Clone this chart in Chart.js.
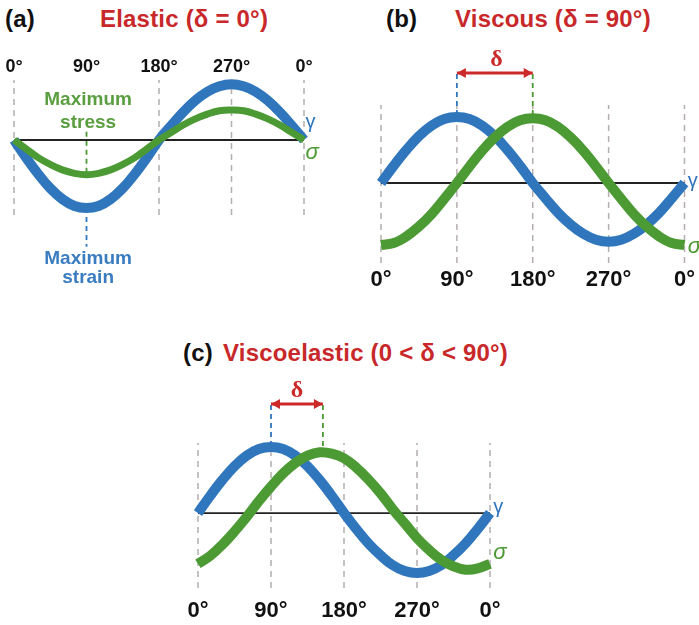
<!DOCTYPE html>
<html>
<head>
<meta charset="utf-8">
<script src="https://cdn.jsdelivr.net/npm/chart.js@4.4.0/dist/chart.umd.min.js"></script>
<style>
  body { margin: 0; background: #fff; }
  #page { position: relative; width: 699px; height: 625px; overflow: hidden; font-family: "Liberation Sans", Arial, sans-serif; }
  .ttl { position: absolute; font-weight: bold; font-size: 24px; line-height: 28px; letter-spacing: 0.2px; white-space: nowrap; color: #111; }
  .red { color: #c8282a; }
  canvas { position: absolute; }
</style>
</head>
<body>
<div id="page">
  <div class="ttl" style="left:5px; top:5px">(a)</div>
  <div class="ttl red" style="left:100px; top:5px">Elastic (δ = 0°)</div>
  <div class="ttl" style="left:386px; top:5px">(b)</div>
  <div class="ttl red" style="left:455px; top:5px">Viscous (δ = 90°)</div>
  <div class="ttl" style="left:183px; top:339px">(c)</div>
  <div class="ttl red" style="left:223px; top:339px">Viscoelastic (0 &lt; δ &lt; 90°)</div>
  <canvas id="chartA" width="340" height="300" style="left:0; top:0"></canvas>
  <canvas id="chartB" width="359" height="300" style="left:340px; top:0"></canvas>
  <canvas id="chartC" width="400" height="245" style="left:150px; top:380px"></canvas>
</div>
<script>
// phase angle (deg) of each sample
const angles = [0, 15, 30, 45, 60, 75, 90, 105, 120, 135, 150, 165, 180,
                195, 210, 225, 240, 255, 270, 285, 300, 315, 330, 345, 360];
const tickAngles = [0, 90, 180, 270, 360];
const tickLabels = ['0°', '90°', '180°', '270°', '0°'];

// (a) elastic: strain (gamma) and stress (sigma) in phase
const strainA = [0, -0.26, -0.5, -0.71, -0.87, -0.97, -1, -0.97, -0.87, -0.71, -0.5, -0.26, 0,
                 0.21, 0.41, 0.58, 0.71, 0.79, 0.82, 0.79, 0.71, 0.58, 0.41, 0.21, 0];
const stressA = [0, -0.13, -0.26, -0.36, -0.44, -0.49, -0.51, -0.49, -0.44, -0.36, -0.26, -0.13, 0,
                 0.11, 0.22, 0.31, 0.38, 0.43, 0.44, 0.43, 0.38, 0.31, 0.22, 0.11, 0];

// (b) viscous: stress lags strain by 90
const strainB = [0, 0.26, 0.5, 0.71, 0.87, 0.97, 1, 0.97, 0.87, 0.71, 0.5, 0.26, 0,
                 -0.23, -0.45, -0.63, -0.77, -0.86, -0.89, -0.86, -0.77, -0.63, -0.45, -0.23, 0];
const stressB = [-0.94, -0.91, -0.81, -0.66, -0.47, -0.24, 0, 0.25, 0.49, 0.69, 0.85, 0.95, 0.98,
                 0.95, 0.85, 0.69, 0.49, 0.25, 0, -0.24, -0.47, -0.66, -0.81, -0.91, -0.94];

// (c) viscoelastic: stress lags strain by ~64
const strainC = [0, 0.26, 0.5, 0.71, 0.87, 0.97, 1, 0.97, 0.87, 0.71, 0.5, 0.26, 0,
                 -0.24, -0.46, -0.64, -0.79, -0.88, -0.91, -0.88, -0.79, -0.64, -0.46, -0.24, 0];
const stressC = [-0.77, -0.65, -0.48, -0.28, -0.06, 0.18, 0.4, 0.6, 0.76, 0.87, 0.92, 0.9, 0.83,
                 0.69, 0.51, 0.3, 0.06, -0.16, -0.38, -0.56, -0.71, -0.81, -0.86, -0.84, -0.77];

// delta arrows: [strain peak, stress peak]
const deltaB = [90, 180];
const deltaC = [90, 154];

const BLUE = '#2f76bd';
const GREEN = '#4c9a34';
const RED = '#cc2a2a';
const GREY = '#b5aeae';
const FONT = '"Liberation Sans", Arial, sans-serif';

// text labels and delta arrowheads, placed through the chart scales
const notes = {
  id: 'notes',
  afterDatasetsDraw(chart, args, opts) {
    const {ctx, scales: {x, y}} = chart;
    ctx.save();
    if (opts.arrow) {
      const yy = y.getPixelForValue(opts.arrow.y);
      const x0 = x.getPixelForValue(opts.arrow.from);
      const x1 = x.getPixelForValue(opts.arrow.to);
      ctx.fillStyle = RED;
      ctx.beginPath();
      ctx.moveTo(x0, yy); ctx.lineTo(x0 + 9, yy - 5); ctx.lineTo(x0 + 9, yy + 5); ctx.closePath();
      ctx.moveTo(x1, yy); ctx.lineTo(x1 - 9, yy - 5); ctx.lineTo(x1 - 9, yy + 5); ctx.closePath();
      ctx.fill();
    }
    (opts.items || []).forEach(n => {
      ctx.font = n.font;
      ctx.fillStyle = n.color;
      ctx.textAlign = n.align || 'center';
      ctx.textBaseline = 'middle';
      ctx.fillText(n.text, x.getPixelForValue(n.x), y.getPixelForValue(n.y));
    });
    ctx.restore();
  }
};

function line(points, color, width, dash, order) {
  return {
    data: points, borderColor: color, borderWidth: width, borderDash: dash || [],
    pointRadius: 0, tension: 0, clip: false, order: order, borderCapStyle: 'butt'
  };
}

function makePanel(id, p) {
  const datasets = [
    {
      data: angles.map((a, i) => ({x: a, y: p.stress[i]})),
      borderColor: GREEN, borderWidth: p.stressWidth, pointRadius: 0,
      tension: 0.4, clip: false, order: 1
    },
    {
      data: angles.map((a, i) => ({x: a, y: p.strain[i]})),
      borderColor: BLUE, borderWidth: 10, pointRadius: 0,
      tension: 0.4, clip: false, order: 2
    },
    line([{x: 0, y: 0}, {x: 360, y: 0}], '#222', 1.8, null, 3)
  ];
  p.guides.forEach(g => {
    datasets.push(line([{x: g.at, y: g.from}, {x: g.at, y: g.to}], g.color, 1.8, [5, 4], 4));
  });
  p.grid.forEach(a => {
    datasets.push(line([{x: a, y: p.yMin}, {x: a, y: p.yMax}], GREY, 1.5, [6, 5], 5));
  });
  let arrow = null;
  if (p.delta) {
    datasets.push(line([{x: p.delta[0], y: p.arrowY}, {x: p.delta[1], y: p.arrowY}], RED, 3, null, 0));
    arrow = {from: p.delta[0], to: p.delta[1], y: p.arrowY};
  }

  return new Chart(document.getElementById(id), {
    type: 'line',
    data: {datasets},
    plugins: [notes],
    options: {
      responsive: false,
      animation: false,
      events: [],
      layout: {padding: p.padding},
      scales: {
        x: {
          type: 'linear', min: 0, max: 360, position: p.axisPos,
          grid: {display: false, drawTicks: false},
          border: {display: false},
          afterBuildTicks: s => { s.ticks = tickAngles.map(v => ({value: v})); },
          afterFit: s => { s.height = 30; },
          ticks: {
            autoSkip: false, maxRotation: 0, padding: p.tickPad, color: '#111',
            font: {family: FONT, weight: 'bold', size: p.tickSize},
            callback: (v, i) => tickLabels[i]
          }
        },
        y: {type: 'linear', display: false, min: p.yMin, max: p.yMax}
      },
      plugins: {
        legend: {display: false},
        tooltip: {enabled: false},
        notes: {items: p.notes, arrow: arrow}
      }
    }
  });
}

makePanel('chartA', {
  strain: strainA, stress: stressA, stressWidth: 7,
  padding: {left: 14, right: 36, top: 50, bottom: 85},
  axisPos: 'top', tickPad: 2, tickSize: 18,
  yMin: -1.103, yMax: 0.882,
  grid: [0, 180, 270, 360],
  guides: [
    {at: 90, from: 0.12, to: -0.51, color: GREEN},
    {at: 90, from: -1, to: -1.57, color: BLUE}
  ],
  notes: [
    {text: 'Maximum', x: 92, y: 0.59, color: '#5a9e40', font: 'bold 19px ' + FONT},
    {text: 'stress', x: 92, y: 0.25, color: '#5a9e40', font: 'bold 19px ' + FONT},
    {text: 'Maximum', x: 92, y: -1.74, color: '#3a7cc0', font: 'bold 19px ' + FONT},
    {text: 'strain', x: 92, y: -2.03, color: '#3a7cc0', font: 'bold 19px ' + FONT},
    {text: 'γ', x: 362, y: 0.25, color: BLUE, align: 'left', font: '20px ' + FONT},
    {text: 'σ', x: 362, y: -0.19, color: GREEN, align: 'left', font: 'italic 22px ' + FONT}
  ]
});

makePanel('chartB', {
  strain: strainB, stress: stressB, stressWidth: 10,
  padding: {left: 41, right: 14, top: 105, bottom: 7},
  axisPos: 'bottom', tickPad: 4, tickSize: 22,
  yMin: -1.212, yMax: 1.182,
  grid: tickAngles,
  guides: [
    {at: deltaB[0], from: 1.652, to: 1.0, color: BLUE},
    {at: deltaB[1], from: 1.652, to: 0.98, color: GREEN}
  ],
  delta: deltaB, arrowY: 1.667,
  notes: [
    {text: 'δ', x: 137, y: 1.87, color: RED, font: 'bold 24px "Liberation Serif", serif'},
    {text: 'γ', x: 364, y: 0.03, color: BLUE, align: 'left', font: '20px ' + FONT},
    {text: 'σ', x: 364, y: -0.97, color: GREEN, align: 'left', font: 'italic 22px ' + FONT}
  ]
});

makePanel('chartC', {
  strain: strainC, stress: stressC, stressWidth: 10,
  padding: {left: 48, right: 60, top: 63, bottom: 7},
  axisPos: 'bottom', tickPad: 10, tickSize: 22,
  yMin: -1.136, yMax: 1.061,
  grid: tickAngles,
  guides: [
    {at: deltaC[0], from: 1.636, to: 1.0, color: BLUE},
    {at: deltaC[1], from: 1.636, to: 0.92, color: GREEN}
  ],
  delta: deltaC, arrowY: 1.652,
  notes: [
    {text: 'δ', x: 122, y: 1.85, color: RED, font: 'bold 24px "Liberation Serif", serif'},
    {text: 'γ', x: 364, y: 0.09, color: BLUE, align: 'left', font: '20px ' + FONT},
    {text: 'σ', x: 364, y: -0.61, color: GREEN, align: 'left', font: 'italic 22px ' + FONT}
  ]
});
</script>
</body>
</html>
